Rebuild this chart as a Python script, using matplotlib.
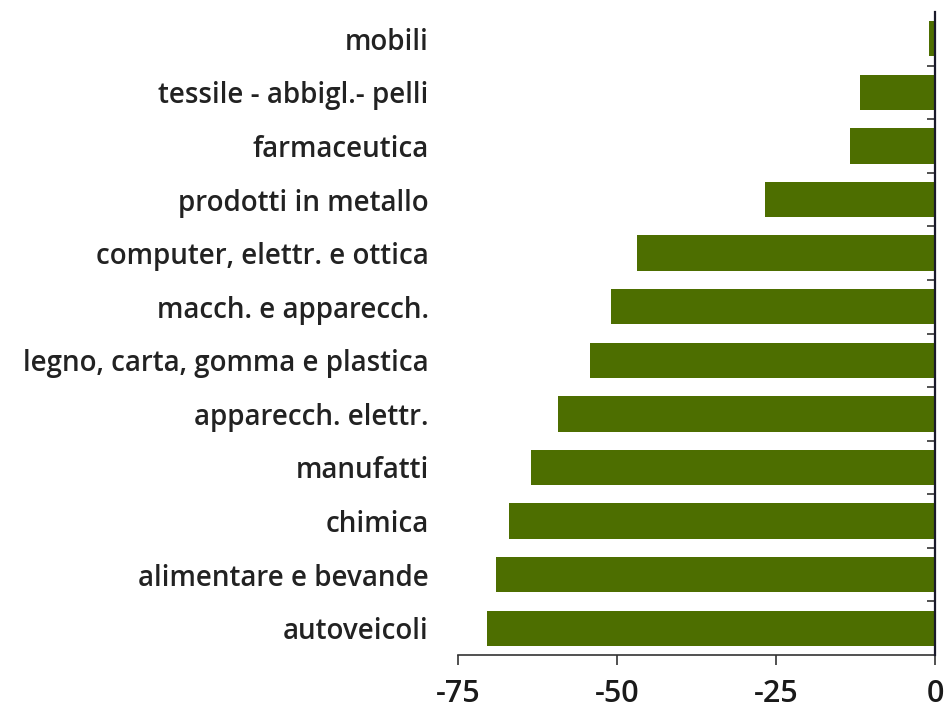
import matplotlib
matplotlib.use("Agg")
import matplotlib.pyplot as plt
import numpy as np

categories = ["mobili", "tessile - abbigl.- pelli", "farmaceutica", "prodotti in metallo",
              "computer, elettr. e ottica", "macch. e apparecch.",
              "legno, carta, gomma e plastica", "apparecch. elettr.", "manufatti",
              "chimica", "alimentare e bevande", "autoveicoli"]
values = [-1.0, -11.8, -13.4, -26.7, -46.9, -51.0, -54.2, -59.2, -63.6, -67.0, -69.0, -70.5]
xticks = [-75, -50, -25, 0]

fig = plt.figure(figsize=(9.48, 7.11), dpi=100)
ax = fig.add_axes([458/948, 1-655/711, (935-458)/948, (655-12)/711])

y = np.arange(len(categories))
ax.barh(y, values, height=0.66, color="#4d6e00", zorder=2)
ax.set_ylim(len(categories) - 0.5, -0.5)
ax.set_xlim(-75, 0)

ax.spines["left"].set_visible(False)
ax.spines["top"].set_visible(False)
ax.spines["right"].set_visible(True)
ax.spines["right"].set_color("#1a1a2a")
ax.spines["right"].set_linewidth(1.6)
ax.spines["right"].set_zorder(3)
ax.spines["bottom"].set_color("#333333")
ax.spines["bottom"].set_linewidth(1.2)

font = "Open Sans"
ax.set_xticks(xticks)
ax.set_xticklabels([str(t) for t in xticks], fontsize=22, fontfamily=font,
                   fontweight="semibold", color="#1a1a1a")
ax.tick_params(axis="x", direction="out", length=7, width=1.2, color="#333333", pad=10)

ax.set_yticks(y)
ax.set_yticklabels(categories, fontsize=20, fontfamily=font, fontweight="semibold",
                   color="#222222")
ax.tick_params(axis="y", which="major", length=0, pad=21)
ax.set_yticks(np.arange(len(categories) - 1) + 0.5, minor=True)
ax.tick_params(axis="y", which="minor", left=False, right=True, direction="in",
               length=6, width=1.2, color="#333333")

fig.savefig("out.png", dpi=100)
